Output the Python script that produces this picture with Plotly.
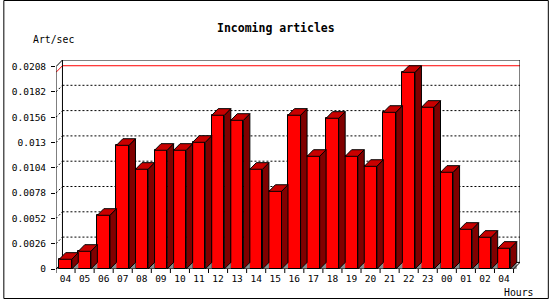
import plotly.graph_objects as go

# ---------------- data ----------------
hours = ["04", "05", "06", "07", "08", "09", "10", "11", "12", "13", "14", "15",
         "16", "17", "18", "19", "20", "21", "22", "23", "00", "01", "02", "04"]
art_per_sec = [0.0010, 0.00182, 0.00552, 0.01271, 0.01025, 0.0122, 0.0122, 0.01302,
               0.0158, 0.01528, 0.01025, 0.00798, 0.0158, 0.01158, 0.01549, 0.01158,
               0.01055, 0.0161, 0.02021, 0.01662, 0.00994, 0.00408, 0.00326, 0.00213]
y_ticks = [0, 0.0026, 0.0052, 0.0078, 0.0104, 0.013, 0.0156, 0.0182, 0.0208]
y_tick_text = ["0", "0.0026", "0.0052", "0.0078", "0.0104", "0.013", "0.0156", "0.0182", "0.0208"]
title_text = "Incoming articles"
y_title = "Art/sec"
x_title = "Hours"

# ---------------- layout geometry ----------------
W, H = 550, 300
L, R, T, B = 53, 30, 60, 31
PW, PH = W - L - R, H - T - B
N = len(hours)
DXPX = 6.5                      # 3D depth (pixels)
unit = (PW - DXPX) / N          # pixels per category
DX = DXPX / unit                # depth in x data units
YTOP = y_ticks[-1]
FRONT_TOP_PX = 202.4            # pixel height of front axis (0 -> YTOP)
scale = FRONT_TOP_PX / YTOP
DY = (PH - FRONT_TOP_PX) / scale
BW = 0.66
X0, X1 = -0.5, N - 0.5

def xp(px):
    return (px - L) / PW

def yp(py):
    return (H - B - py) / PH

FONT = "DejaVu Sans Mono"
RED, TOPC, SIDEC, GRAY = "#FF0000", "#C80000", "#800000", "#8C8C8C"

xs = list(range(N))

# polygons for top and side faces and floor shadow, built from the data
top_x, top_y, side_x, side_y, sh_x, sh_y = [], [], [], [], [], []
for i, v in zip(xs, art_per_sec):
    xl, xr = i - BW / 2, i + BW / 2
    top_x += [xl, xl + DX, xr + DX, xr, xl, None]
    top_y += [v, v + DY, v + DY, v, v, None]
    side_x += [xr, xr + DX, xr + DX, xr, xr, None]
    side_y += [0, DY, v + DY, v, 0, None]
    sh_x += [xr, xr + DX, xr + DX, xr, None]
    sh_y += [0, DY, 0, 0, None]

fig = go.Figure()
fig.add_trace(go.Scatter(x=sh_x, y=sh_y, fill="toself", fillcolor=GRAY, mode="lines",
                         line=dict(width=0, color=GRAY), hoverinfo="skip", showlegend=False))
fig.add_trace(go.Bar(x=xs, y=art_per_sec, width=BW, marker=dict(color=RED, line=dict(color="black", width=1)),
                     showlegend=False))
fig.add_trace(go.Scatter(x=side_x, y=side_y, fill="toself", fillcolor=SIDEC, mode="lines",
                         line=dict(width=1, color="black"), hoverinfo="skip", showlegend=False))
fig.add_trace(go.Scatter(x=top_x, y=top_y, fill="toself", fillcolor=TOPC, mode="lines",
                         line=dict(width=1, color="black"), hoverinfo="skip", showlegend=False))

shapes = []
def seg(x0, y0, x1, y1, color="black", dash=None, layer="below"):
    d = dict(type="line", xref="x", yref="y", x0=x0, y0=y0, x1=x1, y1=y1,
             line=dict(color=color, width=1), layer=layer)
    if dash:
        d["line"]["dash"] = dash
    shapes.append(d)

# dotted grid lines on back wall (with diagonal from front axis)
for v in y_ticks[1:-1]:
    seg(X0, v, X0 + DX, v + DY, dash="2px,2px")
    seg(X0 + DX, v + DY, X1 + DX, v + DY, dash="2px,2px")
# max line
vmax = max(art_per_sec)
seg(X0, vmax, X0 + DX, vmax + DY, color=RED)
seg(X0 + DX, vmax + DY, X1 + DX, vmax + DY, color=RED)
# back wall box
shapes.append(dict(type="rect", xref="x", yref="y", x0=X0 + DX, y0=DY, x1=X1 + DX, y1=YTOP + DY,
                   line=dict(color="black", width=1), layer="below"))
# connecting diagonals
seg(X0, YTOP, X0 + DX, YTOP + DY)
seg(X0, 0, X0 + DX, DY)
seg(X1, 0, X1 + DX, DY, layer="above")
# front axes
seg(X0, 0, X0, YTOP, layer="above")
seg(X0, 0, X1, 0, layer="above")
# x tick marks at category boundaries
for k in range(N + 1):
    shapes.append(dict(type="line", xref="x", yref="paper", x0=k - 0.5, x1=k - 0.5,
                       y0=0, y1=-4 / PH, line=dict(color="black", width=1), layer="above"))
# outer frame
shapes.append(dict(type="rect", xref="paper", yref="paper", x0=xp(0.5), x1=xp(W - 1.5),
                   y0=yp(H - 1.5), y1=yp(0.5), line=dict(color="black", width=1)))

annotations = [
    dict(text="<b>" + title_text + "</b>", x=xp(274), y=yp(28), xref="paper", yref="paper",
         showarrow=False, font=dict(family=FONT, size=11.5, color="black"), xanchor="center", yanchor="middle"),
    dict(text=y_title, x=xp(50.5), y=yp(39.5), xref="paper", yref="paper",
         showarrow=False, font=dict(family=FONT, size=9.8, color="black"), xanchor="center", yanchor="middle"),
    dict(text=x_title, x=xp(519), y=yp(292), xref="paper", yref="paper",
         showarrow=False, font=dict(family=FONT, size=9.8, color="black"), xanchor="center", yanchor="middle"),
]

fig.update_layout(
    width=W, height=H, margin=dict(l=L, r=R, t=T, b=B, pad=0),
    paper_bgcolor="white", plot_bgcolor="white",
    shapes=shapes, annotations=annotations, bargap=0,
    xaxis=dict(range=[X0, X1 + DX], tickvals=xs, ticktext=hours, showgrid=False, zeroline=False,
               showline=False, ticks="outside", ticklen=1, tickcolor="rgba(0,0,0,0)",
               tickfont=dict(family=FONT, size=9.5, color="black"), fixedrange=True),
    yaxis=dict(range=[0, YTOP + DY], tickvals=y_ticks, ticktext=y_tick_text, showgrid=False,
               zeroline=False, showline=False, ticks="outside", ticklen=4, tickcolor="black",
               ticklabelstandoff=3,
               tickfont=dict(family=FONT, size=9.5, color="black"), fixedrange=True),
)

fig.write_html("out.html", config={"displayModeBar": False})
